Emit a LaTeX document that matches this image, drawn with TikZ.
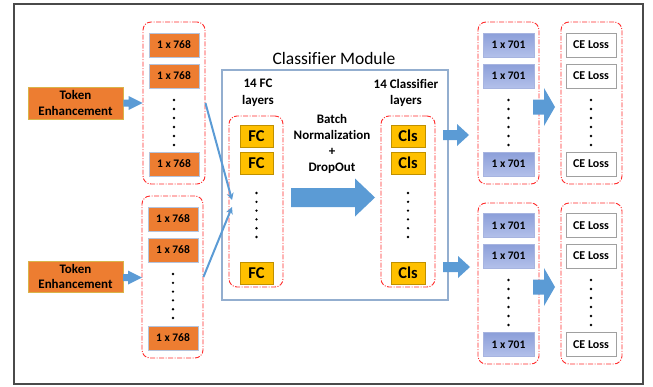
\documentclass[tikz,border=0pt]{standalone}
\usepackage{fontspec}
\setmainfont{Carlito}[Ligatures=NoCommon]
\usetikzlibrary{arrows.meta,calc}
\definecolor{obox}{HTML}{ED7D31}
\definecolor{teborder}{HTML}{D9B44A}
\definecolor{vborder}{HTML}{B4C3DC}
\definecolor{fcfill}{HTML}{FFC000}
\definecolor{fcborder}{HTML}{BF9000}
\definecolor{ptop}{HTML}{8C9FD9}
\definecolor{pbot}{HTML}{B3C0EA}
\definecolor{pborder}{HTML}{A7B4E0}
\definecolor{ceborder}{HTML}{A0A0A0}
\definecolor{grpred}{HTML}{FF2A2A}
\definecolor{ablue}{HTML}{5B9BD5}
\definecolor{modborder}{HTML}{93AECF}
\definecolor{frame}{HTML}{4A4A4A}
\newcommand\barrow[5]{%
  \fill[ablue] let \p1=(#1), \p2=(#2) in
    (\x1,\y1+#3) -- (\x2-#5,\y1+#3) -- (\x2-#5,\y1+#4) -- (\x2,\y1)
    -- (\x2-#5,\y1-#4) -- (\x2-#5,\y1-#3) -- (\x1,\y1-#3) -- cycle;}
\newcommand\dotcol[3]{% x, ytop, ybottom
  \foreach \k in {0,...,5}{\fill (#1,{#2+\k*(#3-#2)/5}) circle (1.3pt);}}
\begin{document}
\begin{tikzpicture}[x=1pt,y=-1pt,
  grp/.style 2 args={draw=grpred, line width=0.9pt,
    dash pattern=on 5pt off 1.5pt on 1pt off 1.5pt,
    rounded corners=8pt, minimum width=#1pt, minimum height=#2pt, inner sep=0pt},
  tebox/.style={draw=teborder, line width=0.8pt, fill=obox, minimum width=95pt,
    minimum height=32pt, inner sep=0pt, align=center,
    font=\bfseries\fontsize{13}{15.5}\selectfont},
  vbox/.style={draw=vborder, line width=0.8pt, fill=obox, minimum width=50pt,
    minimum height=24pt, inner sep=0pt, font=\bfseries\fontsize{11.5}{13}\selectfont},
  pbox/.style={draw=pborder, line width=0.8pt, top color=ptop, bottom color=pbot,
    minimum width=51pt, minimum height=24pt, inner sep=0pt,
    font=\bfseries\fontsize{11.5}{13}\selectfont},
  cebox/.style={draw=ceborder, line width=0.8pt, fill=white, minimum width=50pt,
    minimum height=24pt, inner sep=0pt, font=\bfseries\fontsize{12}{13}\selectfont},
  fcbox/.style={draw=fcborder, line width=0.8pt, fill=fcfill, minimum width=33pt,
    minimum height=22pt, inner sep=0pt, font=\bfseries\fontsize{16.5}{17}\selectfont},
  lbl/.style={align=center, inner sep=0pt, font=\bfseries\fontsize{13}{16.5}\selectfont},
  larrow/.style={draw=ablue, line width=2pt, -{Stealth[length=7pt,width=7pt]}}
]
\useasboundingbox (0,0) rectangle (653,386);
\draw[frame, line width=1.8pt] (14,4) rectangle (643,384);

% Token enhancement
\node[tebox] (te1) at (75.5,103) {Token\\Enhancement};
\node[tebox, minimum height=31pt] (te2) at (75.5,276.5) {Token\\Enhancement};

% 1x768 groups
\node[grp={62}{162}] (ga) at (174,103) {};
\node[vbox] (a1) at (174,45) {1 x 768};
\node[vbox] (a2) at (174,76) {1 x 768};
\node[vbox] (a3) at (174,164) {1 x 768};
\dotcol{174}{100}{145}
\node[grp={61}{162}] (gb) at (172.5,277) {};
\node[vbox] (b1) at (173,219) {1 x 768};
\node[vbox] (b2) at (173,250) {1 x 768};
\node[vbox] (b3) at (173,338) {1 x 768};
\dotcol{173}{274}{318}

% Classifier module
\node[draw=modborder, line width=1.2pt, minimum width=226pt, minimum height=230pt,
  inner sep=0pt] (mod) at (335,185) {};
\node[inner sep=0pt, font=\fontsize{17.5}{20}\selectfont] (modt) at (334,58) {Classifier Module};
\node[lbl] (fct) at (258,93) {14 FC\\layers};
\node[lbl] (clt) at (406,93) {14 Classifier\\layers};
\node[lbl, font=\bfseries\fontsize{13}{16}\selectfont] (bn) at (332,144)
  {Batch\\Normalization\\+\\DropOut};

\node[grp={54}{171}] (gfc) at (256,201.5) {};
\node[fcbox] (fc1) at (256.5,136) {FC};
\node[fcbox] (fc2) at (256.5,163) {FC};
\node[fcbox] (fc3) at (256.5,273) {FC};
\dotcol{256.5}{193}{237}

\node[grp={54}{171}] (gcl) at (408,201.5) {};
\node[fcbox, minimum width=34pt] (cl1) at (408,136) {Cls};
\node[fcbox, minimum width=34pt] (cl2) at (408,163) {Cls};
\node[fcbox, minimum width=34pt] (cl3) at (408,273) {Cls};
\dotcol{408}{193}{237}

% 1x701 groups
\node[grp={61}{162}] (gc) at (508.5,103) {};
\node[pbox] (c1) at (508.5,45) {1 x 701};
\node[pbox] (c2) at (508.5,76) {1 x 701};
\node[pbox] (c3) at (508.5,164) {1 x 701};
\dotcol{508.5}{100}{145}
\node[grp={61}{161}] (gd) at (508.5,283.5) {};
\node[pbox] (d1) at (508.5,225.5) {1 x 701};
\node[pbox] (d2) at (508.5,256) {1 x 701};
\node[pbox] (d3) at (508.5,344.5) {1 x 701};
\dotcol{508.5}{280}{325}

% CE loss groups
\node[grp={61}{162}] (ge) at (591.5,103) {};
\node[cebox] (e1) at (591,45) {CE Loss};
\node[cebox] (e2) at (591,76) {CE Loss};
\node[cebox] (e3) at (591,164) {CE Loss};
\dotcol{591}{100}{145}
\node[grp={61}{161}] (gf) at (591.5,283.5) {};
\node[cebox] (f1) at (591,225.5) {CE Loss};
\node[cebox] (f2) at (591,256) {CE Loss};
\node[cebox] (f3) at (591,344.5) {CE Loss};
\dotcol{591}{280}{325}

% block arrows
\barrow{te1.east}{ga.west}{3.5}{7}{14}
\coordinate (te2o) at (123,277.5);
\coordinate (gbi) at (142,277.5);
\barrow{te2o}{gbi}{3.5}{7}{14}
\coordinate (bigs) at (291,197.5);
\coordinate (bige) at (375,197.5);
\barrow{bigs}{bige}{9.5}{19}{20}
\coordinate (cla) at (443,135);
\coordinate (clae) at (469,135);
\barrow{cla}{clae}{5}{11}{12}
\coordinate (clb) at (443,267);
\coordinate (clbe) at (470,267);
\barrow{clb}{clbe}{5}{11}{12}
\coordinate (pa) at (533,107);
\coordinate (pae) at (555,107);
\barrow{pa}{pae}{7.5}{19}{11}
\coordinate (pb) at (533,287);
\coordinate (pbe) at (555,287);
\barrow{pb}{pbe}{7.5}{19}{11}

% line arrows into FC group
\coordinate (fcin1) at (232,200);
\coordinate (fcin2) at (232,207);
\draw[larrow] (ga.east) -- (fcin1);
\draw[larrow] (gb.east) -- (fcin2);
\end{tikzpicture}
\end{document}
